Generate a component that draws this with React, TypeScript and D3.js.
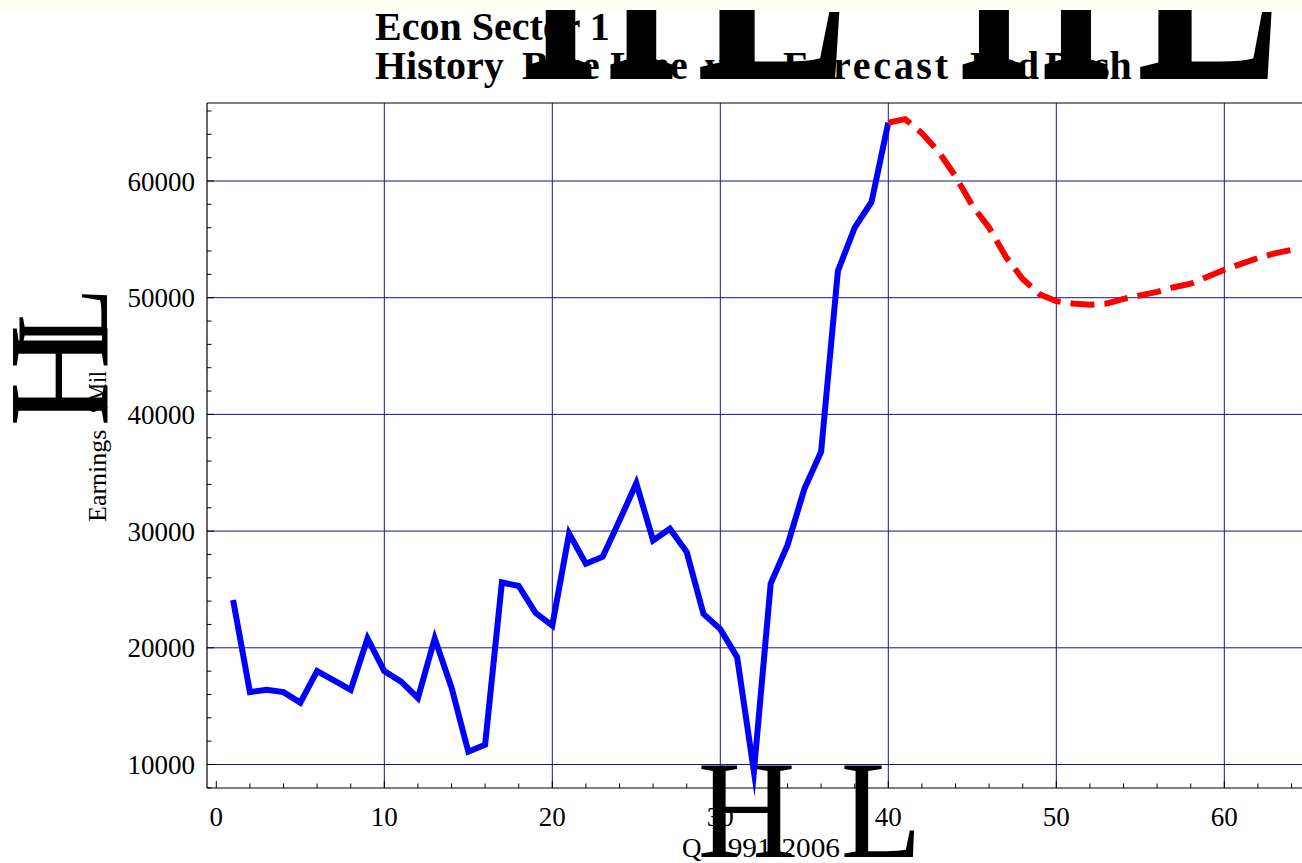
import * as d3 from "d3";
import React, { useEffect, useRef } from "react";

// quarterly earnings, history then forecast (forecast starts at the last history quarter)
const historyValues = [
  24100, 16200, 16400, 16200, 15300, 18000, 17200, 16400, 20800, 18000,
  17100, 15700, 20800, 16600, 11100, 11700, 25600, 25300, 23000, 21900,
  29800, 27200, 27800, 30900, 34100, 29200, 30200, 28200, 22900, 21600,
  19200, 9400, 25500, 28800, 33600, 36800, 52300, 56000, 58200, 65000,
];
const forecastValues = [
  65000, 65300, 64100, 62500, 60400, 57900, 56000, 53500, 51600, 50300,
  49700, 49500, 49400, 49500, 49900, 50200, 50500, 50900, 51200, 51800,
  52400, 52900, 53400, 53800, 54100,
];
const xTickValues = [0, 10, 20, 30, 40, 50, 60];
const yTickValues = [10000, 20000, 30000, 40000, 50000, 60000];
const titleLine1 = "Econ Sector 1";
const titleWords = ["History", "Blue", "Line", "vs.", "Forecast", "Red", "Dash"];
const xLabelParts = ["Q", "1991-2006"];
const yLabelParts = ["Earnings", "$Mil"];

const FONT = "'Liberation Serif', 'Times New Roman', serif";

const metrics: any = {
  regular: { H: [0.019, 0.703], L: [0.012, 0.596], cap: 0.655 },
  bold: { H: [0.019, 0.759], L: [0.016, 0.641], cap: 0.676 },
};

// oversized delimiter glyphs, fitted to an ink box
const bigGlyph = (
  g: any,
  ch: string,
  bold: boolean,
  x0: number,
  x1: number,
  base: number,
  top?: number
) => {
  const m = bold ? metrics.bold : metrics.regular;
  const [l, r] = m[ch];
  const sx = (x1 - x0) / ((r - l) * 100);
  const sy = top === undefined ? sx : (base - top) / (m.cap * 100);
  g.append("text")
    .attr("transform", `translate(${x0 - l * 100 * sx},${base}) scale(${sx},${sy})`)
    .attr("font-size", 100)
    .attr("font-family", FONT)
    .attr("font-weight", bold ? "bold" : "normal")
    .attr("fill", "#000")
    .text(ch);
};

const Chart = () => {
  const svgRef = useRef(null);

  useEffect(() => {
    const svg = d3.select(svgRef.current);
    svg.selectAll("*").remove();

    const left = 207,
      right = 1302,
      top = 103,
      bottom = 788;

    const x = d3.scaleLinear().domain([0, 60]).range([216.3, 1224.3]);
    const y = d3.scaleLinear().domain([10000, 60000]).range([764.5, 181]);

    svg.append("rect").attr("width", 1302).attr("height", 863).attr("fill", "#fff");

    // grid
    const grid = svg.append("g").attr("stroke", "#14148c").attr("stroke-width", 1);
    grid
      .selectAll("line.v")
      .data(xTickValues.filter((d) => d > 0))
      .join("line")
      .attr("x1", (d) => x(d))
      .attr("x2", (d) => x(d))
      .attr("y1", top)
      .attr("y2", bottom);
    grid
      .selectAll("line.h")
      .data(yTickValues)
      .join("line")
      .attr("x1", left)
      .attr("x2", right)
      .attr("y1", (d) => y(d))
      .attr("y2", (d) => y(d));

    // title
    const title = svg
      .append("g")
      .attr("font-family", FONT)
      .attr("font-weight", "bold")
      .attr("font-size", 40)
      .attr("fill", "#000");
    title.append("text").attr("x", 375).attr("y", 40).text(titleLine1);
    const wordX = [375, 522, 610, 705, 783, 970, 1045];
    titleWords.forEach((w, i) => {
      const t = title.append("text").attr("x", wordX[i]).attr("y", 79).text(w);
      if (w === "Forecast") t.attr("textLength", 165).attr("lengthAdjust", "spacing");
    });
    bigGlyph(svg, "H", true, 530, 672, 79, -190);
    bigGlyph(svg, "L", true, 700, 843, 79, -150);
    bigGlyph(svg, "H", true, 963, 1107, 79, -190);
    bigGlyph(svg, "L", true, 1140, 1275, 79, -150);

    // x label
    const xl = svg.append("g").attr("font-family", FONT).attr("font-size", 27);
    xl.append("text").attr("x", 682).attr("y", 857).text(xLabelParts[0]);
    xl.append("text")
      .attr("x", 713)
      .attr("y", 857)
      .attr("textLength", 127)
      .attr("lengthAdjust", "spacingAndGlyphs")
      .text(xLabelParts[1]);
    bigGlyph(svg, "H", false, 700, 793, 857, 765);
    bigGlyph(svg, "L", false, 842, 920, 857, 765);

    // y label (rotated)
    const yl = svg
      .append("g")
      .attr("transform", "translate(107,0) rotate(-90)")
      .attr("font-family", FONT)
      .attr("font-size", 26);
    yl.append("text").attr("x", -522).attr("y", -1).text(yLabelParts[0]);
    yl.append("text")
      .attr("x", -413)
      .attr("y", -1)
      .attr("textLength", 42)
      .attr("lengthAdjust", "spacingAndGlyphs")
      .text(yLabelParts[1]);
    bigGlyph(yl, "H", false, -424, -327, 0, -94);
    bigGlyph(yl, "L", false, -345, -290, 0, -87);

    // axes + frame
    const axes = svg.append("g").attr("stroke", "#000").attr("stroke-width", 1.2);
    axes.append("line").attr("x1", left).attr("x2", right).attr("y1", bottom).attr("y2", bottom);
    axes.append("line").attr("x1", left).attr("x2", left).attr("y1", top).attr("y2", bottom);
    axes.append("line").attr("x1", left).attr("x2", right).attr("y1", top).attr("y2", top);

    const ticks = svg.append("g").attr("stroke", "#000").attr("stroke-width", 1);
    ticks
      .selectAll("line.xt")
      .data(d3.range(0, 65, 2))
      .join("line")
      .attr("x1", (d) => x(d))
      .attr("x2", (d) => x(d))
      .attr("y1", bottom)
      .attr("y2", (d) => bottom - (d % 10 === 0 ? 7 : 4.5));
    ticks
      .selectAll("line.yt")
      .data(d3.range(8000, 67000, 2000))
      .join("line")
      .attr("x1", left)
      .attr("x2", (d) => left + (d % 10000 === 0 ? 7 : 4.5))
      .attr("y1", (d) => y(d))
      .attr("y2", (d) => y(d));

    const tickText = svg.append("g").attr("font-family", FONT).attr("font-size", 27).attr("fill", "#000");
    tickText
      .selectAll("text.xl")
      .data(xTickValues)
      .join("text")
      .attr("x", (d) => x(d))
      .attr("y", 826)
      .attr("text-anchor", "middle")
      .text((d) => d);
    tickText
      .selectAll("text.yl")
      .data(yTickValues)
      .join("text")
      .attr("x", 195)
      .attr("y", (d) => y(d) + 9.5)
      .attr("text-anchor", "end")
      .text((d) => d);

    // series
    const line = d3
      .line<number>()
      .x((_d, i) => x(i + 1))
      .y((d) => y(d));
    const lineF = d3
      .line<number>()
      .x((_d, i) => x(i + historyValues.length))
      .y((d) => y(d));

    svg
      .append("path")
      .attr("d", line(historyValues))
      .attr("fill", "none")
      .attr("stroke", "#0000ff")
      .attr("stroke-width", 6)
      .attr("stroke-linejoin", "miter")
      .attr("stroke-miterlimit", 20);

    svg
      .append("path")
      .attr("d", lineF(forecastValues))
      .attr("fill", "none")
      .attr("stroke", "#ff0000")
      .attr("stroke-width", 6)
      .attr("stroke-dasharray", "24 10")
      .attr("stroke-linejoin", "miter");

    // top band
    svg.append("rect").attr("width", 1302).attr("height", 10).attr("fill", "#fffff3");
  }, []);

  return (
    <svg
      ref={svgRef}
      width={1302}
      height={863}
      style={{ position: "absolute", left: 0, top: 0 }}
    ></svg>
  );
};

export default function App() {
  return <Chart />;
}
